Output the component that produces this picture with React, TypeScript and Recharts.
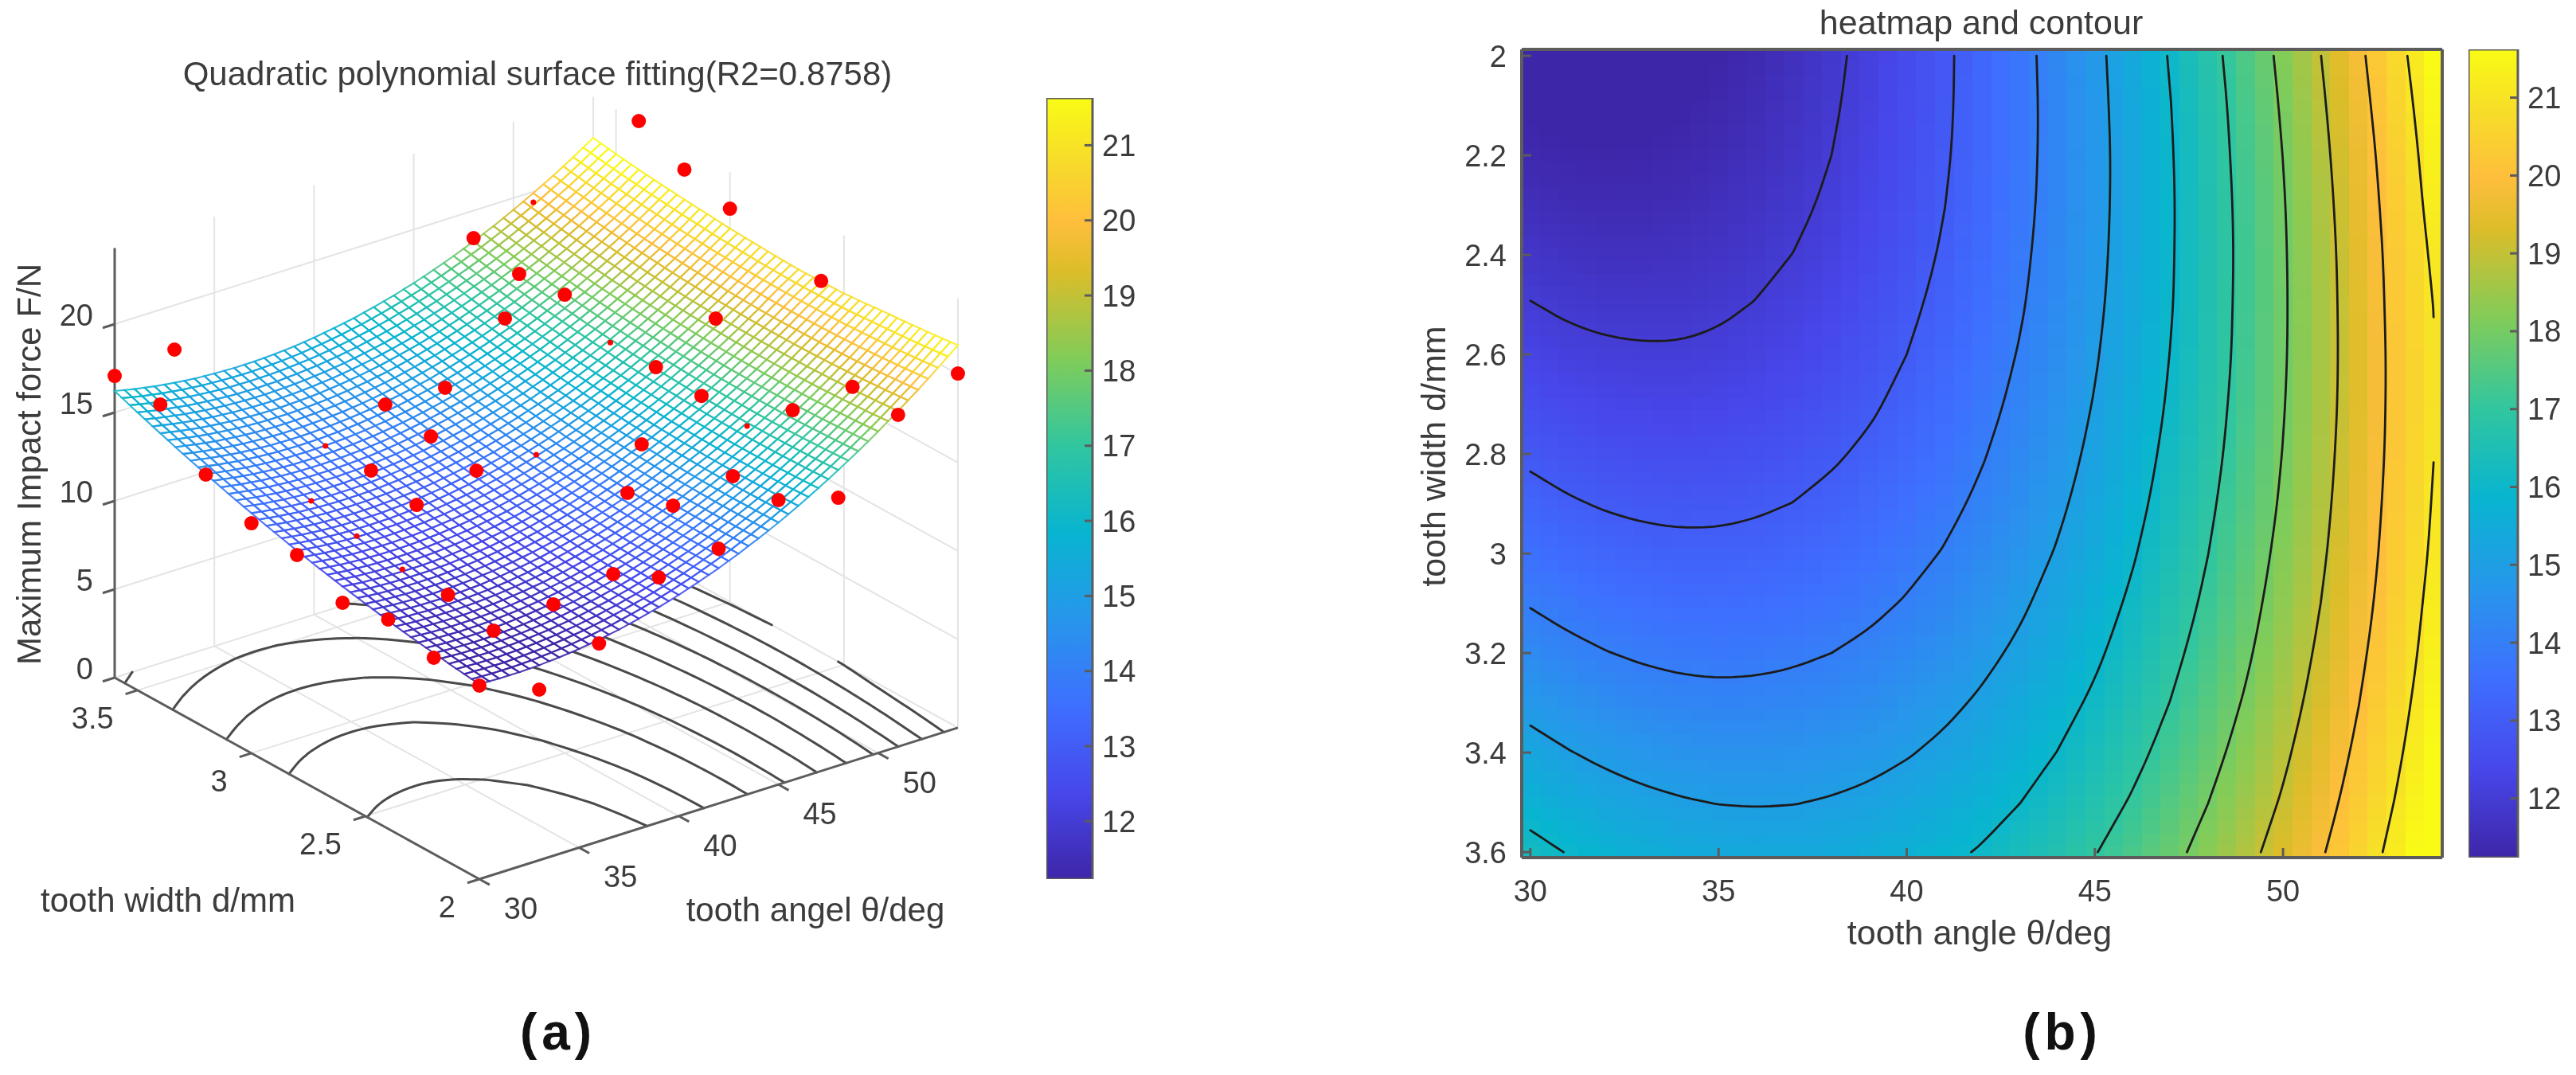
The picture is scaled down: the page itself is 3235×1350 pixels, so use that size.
import { ComposedChart, Line, Scatter, XAxis, YAxis, ReferenceArea } from 'recharts';

// Fitted surface, one row per tooth width, one column per tooth angle
const ANGLES = [30, 31, 32, 33, 34, 35, 36, 37, 38, 39, 40, 41, 42, 43, 44, 45, 46, 47, 48, 49, 50, 51, 52, 53, 54];
const WIDTHS = [2, 2.1, 2.2, 2.3, 2.4, 2.5, 2.6, 2.7, 2.8, 2.9, 3, 3.1, 3.2, 3.3, 3.4, 3.5, 3.6];
const FORCE = [
  [11.03, 10.99, 10.99, 11.03, 11.12, 11.24, 11.41, 11.62, 11.88, 12.17, 12.51, 12.89, 13.31, 13.77, 14.28, 14.82, 15.41, 16.05, 16.72, 17.43, 18.19, 18.99, 19.83, 20.72, 21.64],
  [11.18, 11.13, 11.11, 11.15, 11.22, 11.33, 11.49, 11.69, 11.93, 12.21, 12.53, 12.9, 13.31, 13.76, 14.25, 14.79, 15.36, 15.98, 16.64, 17.34, 18.09, 18.88, 19.71, 20.58, 21.49],
  [11.36, 11.29, 11.26, 11.28, 11.34, 11.44, 11.59, 11.77, 12, 12.27, 12.58, 12.93, 13.33, 13.77, 14.25, 14.77, 15.33, 15.94, 16.59, 17.28, 18.01, 18.79, 19.6, 20.46, 21.36],
  [11.55, 11.47, 11.44, 11.44, 11.49, 11.58, 11.71, 11.88, 12.09, 12.35, 12.65, 12.99, 13.37, 13.8, 14.27, 14.78, 15.33, 15.92, 16.56, 17.23, 17.95, 18.72, 19.52, 20.37, 21.25],
  [11.77, 11.68, 11.63, 11.62, 11.66, 11.73, 11.85, 12.01, 12.21, 12.46, 12.74, 13.07, 13.44, 13.86, 14.31, 14.81, 15.35, 15.93, 16.55, 17.21, 17.92, 18.67, 19.46, 20.29, 21.12],
  [12.02, 11.91, 11.85, 11.83, 11.85, 11.91, 12.02, 12.17, 12.36, 12.59, 12.86, 13.18, 13.53, 13.93, 14.38, 14.86, 15.39, 15.95, 16.57, 17.22, 17.91, 18.65, 19.43, 20.25, 21.01],
  [12.28, 12.16, 12.09, 12.06, 12.06, 12.11, 12.21, 12.34, 12.52, 12.74, 13, 13.3, 13.65, 14.04, 14.47, 14.94, 15.45, 16.01, 16.6, 17.24, 17.92, 18.65, 19.41, 20.22, 20.97],
  [12.57, 12.44, 12.35, 12.31, 12.3, 12.34, 12.42, 12.54, 12.71, 12.91, 13.16, 13.45, 13.79, 14.16, 14.58, 15.04, 15.54, 16.08, 16.67, 17.29, 17.96, 18.67, 19.42, 20.22, 20.95],
  [12.88, 12.74, 12.64, 12.58, 12.57, 12.59, 12.66, 12.77, 12.92, 13.11, 13.35, 13.63, 13.95, 14.31, 14.71, 15.16, 15.65, 16.18, 16.75, 17.36, 18.02, 18.72, 19.46, 20.24, 20.99],
  [13.22, 13.06, 12.95, 12.88, 12.85, 12.86, 12.92, 13.01, 13.15, 13.34, 13.56, 13.82, 14.13, 14.48, 14.87, 15.3, 15.78, 16.3, 16.86, 17.46, 18.1, 18.79, 19.52, 20.29, 21.05],
  [13.58, 13.41, 13.28, 13.2, 13.16, 13.16, 13.2, 13.29, 13.41, 13.58, 13.79, 14.04, 14.34, 14.67, 15.05, 15.47, 15.94, 16.44, 16.99, 17.58, 18.21, 18.88, 19.6, 20.35, 21.12],
  [13.96, 13.78, 13.64, 13.54, 13.49, 13.48, 13.51, 13.58, 13.69, 13.85, 14.05, 14.29, 14.57, 14.89, 15.26, 15.67, 16.12, 16.61, 17.14, 17.72, 18.34, 19, 19.7, 20.44, 21.23],
  [14.37, 14.17, 14.02, 13.91, 13.84, 13.82, 13.84, 13.9, 14, 14.14, 14.32, 14.55, 14.82, 15.13, 15.49, 15.88, 16.32, 16.8, 17.32, 17.88, 18.49, 19.14, 19.83, 20.56, 21.33],
  [14.79, 14.59, 14.42, 14.3, 14.22, 14.18, 14.19, 14.24, 14.32, 14.45, 14.63, 14.84, 15.1, 15.4, 15.74, 16.12, 16.55, 17.01, 17.52, 18.07, 18.66, 19.3, 19.98, 20.7, 21.46],
  [15.25, 15.03, 14.85, 14.72, 14.62, 14.57, 14.56, 14.6, 14.67, 14.79, 14.95, 15.15, 15.4, 15.68, 16.01, 16.38, 16.79, 17.25, 17.74, 18.28, 18.86, 19.49, 20.15, 20.86, 21.6],
  [15.72, 15.49, 15.3, 15.15, 15.05, 14.98, 14.96, 14.98, 15.05, 15.15, 15.3, 15.49, 15.72, 15.99, 16.31, 16.66, 17.07, 17.51, 17.99, 18.52, 19.08, 19.69, 20.34, 21.04, 21.77],
  [16.22, 15.97, 15.77, 15.61, 15.49, 15.42, 15.38, 15.39, 15.44, 15.53, 15.67, 15.85, 16.06, 16.33, 16.63, 16.97, 17.36, 17.79, 18.26, 18.77, 19.33, 19.92, 20.56, 21.24, 21.97],
];

// Measured samples that sit above the surface
const dotTheta = [54, 54, 54, 54, 48, 48, 48, 45, 51, 48, 48, 48, 51, 51, 54, 45, 45, 48, 45, 42, 42, 42, 39, 39, 36, 36, 33, 30, 30, 33, 30, 30, 33, 30, 36, 30, 30, 36, 39, 39, 30, 39, 42, 33, 30];
const dotWidth = [3.4, 3.2, 3, 2.6, 3.6, 3.4, 3.2, 3.2, 2.8, 2.8, 2.6, 2.2, 2.2, 2, 2, 2.6, 2.2, 2, 2, 2.4, 2.2, 2, 2.2, 2, 2.2, 2, 2, 2, 2.2, 2.2, 2.4, 2.6, 2.4, 2.8, 2.8, 3, 3.2, 3, 2.8, 3, 3.4, 3.2, 3.2, 3.6, 3.6];
const dotForce = [24.35, 23.03, 22.24, 21, 18.44, 17.84, 18.09, 17.82, 18.52, 16.84, 16.64, 18.68, 18.93, 18.77, 20.04, 14.97, 16.02, 15.15, 16.09, 14.72, 15.42, 14.41, 12.62, 13.86, 11.98, 11.19, 9.65, 10.95, 11.1, 11.56, 11.84, 11.36, 12.16, 12.64, 13.33, 13.01, 14.34, 13.85, 14.2, 14.71, 16.88, 15.09, 14.97, 17.49, 17.07];
// Samples poking just through the mesh
const sliverTheta = [48, 48, 33, 33, 33, 36, 51, 42];
const sliverWidth = [3, 2.4, 2.6, 2.8, 3, 3.2, 3.6, 2.8];
const sliverForce = [16.81, 16.36, 12.18, 12.64, 13.2, 13.82, 19.4, 14.03];

const LEVELS = [12, 13, 14, 15, 16, 17, 18, 19, 20, 21];
const THETA_TICKS = [30, 35, 40, 45, 50];
const WIDTH_TICKS_A = [2, 2.5, 3, 3.5];
const WIDTH_TICKS_B = [2, 2.2, 2.4, 2.6, 2.8, 3, 3.2, 3.4, 3.6];
const FORCE_TICKS = [0, 5, 10, 15, 20];
const BAR_TICKS = [12, 13, 14, 15, 16, 17, 18, 19, 20, 21];

const PARULA = [[62, 38, 168], [71, 71, 235], [62, 111, 255], [39, 150, 235], [8, 181, 208], [49, 198, 159], [129, 204, 89], [220, 189, 41], [254, 190, 60], [247, 220, 42], [249, 251, 21]];
const PARULA_POS = [0, 7, 14, 21, 28, 35, 42, 49, 53, 58, 63].map((v) => v / 63);
const C_MIN = 11.24;
const C_MAX = 21.63;

const FONT = '"Liberation Sans", Arial, sans-serif';
const TEXT = '#3c3c3c';
const AXIS = '#5c5c5c';

function parula(z: number) {
  const t = Math.min(1, Math.max(0, (z - C_MIN) / (C_MAX - C_MIN)));
  let k = 0;
  while (k < PARULA.length - 2 && t > PARULA_POS[k + 1]) k++;
  const f = (t - PARULA_POS[k]) / (PARULA_POS[k + 1] - PARULA_POS[k]);
  const c = PARULA[k].map((v, n) => Math.round(v + (PARULA[k + 1][n] - v) * f));
  return `rgb(${c[0]},${c[1]},${c[2]})`;
}

type Pt = { theta: number; d: number };

// rounds off the corners the coarse table leaves in a contour
function soften(line: Pt[]) {
  const out: Pt[] = [line[0]];
  for (let k = 0; k < line.length - 1; k++) {
    const a = line[k];
    const b = line[k + 1];
    out.push({ theta: a.theta * 0.75 + b.theta * 0.25, d: a.d * 0.75 + b.d * 0.25 });
    out.push({ theta: a.theta * 0.25 + b.theta * 0.75, d: a.d * 0.25 + b.d * 0.75 });
  }
  out.push(line[line.length - 1]);
  return out;
}

// marching squares over the table, chained into lines with gaps between them
function contour(level: number) {
  const cross = (i1: number, j1: number, i2: number, j2: number) => {
    const a = FORCE[j1][i1] - level;
    const b = FORCE[j2][i2] - level;
    if (a >= 0 === b >= 0) return null;
    const f = a / (a - b);
    return { theta: ANGLES[i1] + (ANGLES[i2] - ANGLES[i1]) * f, d: WIDTHS[j1] + (WIDTHS[j2] - WIDTHS[j1]) * f };
  };
  const segs: Pt[][] = [];
  for (let j = 0; j < WIDTHS.length - 1; j++) {
    for (let i = 0; i < ANGLES.length - 1; i++) {
      const hits = [cross(i, j, i + 1, j), cross(i + 1, j, i + 1, j + 1), cross(i, j + 1, i + 1, j + 1), cross(i, j, i, j + 1)].filter(Boolean) as Pt[];
      if (hits.length === 2) segs.push(hits);
    }
  }
  const key = (p: Pt) => `${p.theta.toFixed(5)}_${p.d.toFixed(5)}`;
  const links = new Map<string, number[]>();
  segs.forEach((s, n) => s.forEach((p) => links.set(key(p), [...(links.get(key(p)) || []), n])));
  const used = new Set<number>();
  const out: { theta: number; d: number | null }[] = [];
  const walk = (start: number, head: number) => {
    used.add(start);
    let cur = segs[start][head];
    const line = [segs[start][1 - head], cur];
    for (;;) {
      const next = (links.get(key(cur)) || []).find((n) => !used.has(n));
      if (next === undefined) break;
      used.add(next);
      cur = key(segs[next][0]) === key(cur) ? segs[next][1] : segs[next][0];
      line.push(cur);
    }
    const smooth = soften(soften(line));
    out.push(...smooth, { theta: cur.theta, d: null });
  };
  segs.forEach((s, n) => {
    if (used.has(n)) return;
    if ((links.get(key(s[0])) || []).length === 1) walk(n, 1);
    else if ((links.get(key(s[1])) || []).length === 1) walk(n, 0);
  });
  return out;
}
const contourData = LEVELS.flatMap(contour);

// panel (a): orthographic view of the axes, chart units are page pixels
const project = (theta: number, d: number, z: number) => ({
  x: 602 + 25.04 * (theta - 30) - 286.25 * (d - 2),
  y: 1104 - 7.92 * (theta - 30) - 158.1 * (d - 2) - 22.2 * z,
});
const Z_TOP = 24.3;
const gap = { x: 0, y: null };
const wallSegs: any[] = [];
const addSeg = (list: any[], a: any, b: any) => list.push(a, b, gap);
[...FORCE_TICKS].forEach((z) => {
  addSeg(wallSegs, project(30, 3.6, z), project(54, 3.6, z));
  addSeg(wallSegs, project(54, 3.6, z), project(54, 2, z));
});
THETA_TICKS.slice(1).forEach((t) => {
  addSeg(wallSegs, project(t, 3.6, 0), project(t, 3.6, Z_TOP));
  addSeg(wallSegs, project(t, 2, 0), project(t, 3.6, 0));
});
WIDTH_TICKS_A.slice(1).forEach((d) => {
  addSeg(wallSegs, project(54, d, 0), project(54, d, Z_TOP));
  addSeg(wallSegs, project(30, d, 0), project(54, d, 0));
});
addSeg(wallSegs, project(54, 2, 0), project(54, 2, Z_TOP));
addSeg(wallSegs, project(54, 3.6, 0), project(54, 3.6, Z_TOP));

const axisSegs: any[] = [];
addSeg(axisSegs, project(30, 3.6, 0), project(30, 3.6, Z_TOP));
addSeg(axisSegs, project(30, 3.6, 0), project(30, 2, 0));
addSeg(axisSegs, project(30, 2, 0), project(54, 2, 0));
FORCE_TICKS.forEach((z) => addSeg(axisSegs, project(30, 3.6, z), project(29.4, 3.6, z)));
WIDTH_TICKS_A.forEach((d) => addSeg(axisSegs, project(30, d, 0), project(29.4, d, 0)));
THETA_TICKS.forEach((t) => addSeg(axisSegs, project(t, 2, 0), project(t, 1.955, 0)));

const floorData = contourData.map((p) => (p.d === null ? gap : project(p.theta, p.d, 0)));

const surfaceCells: any[] = [];
for (let j = 0; j < WIDTHS.length - 1; j++) {
  for (let i = 0; i < ANGLES.length - 1; i++) {
    const pts = [project(ANGLES[i], WIDTHS[j], FORCE[j][i]), project(ANGLES[i + 1], WIDTHS[j], FORCE[j][i + 1]), project(ANGLES[i + 1], WIDTHS[j + 1], FORCE[j + 1][i + 1]), project(ANGLES[i], WIDTHS[j + 1], FORCE[j + 1][i])];
    surfaceCells.push({ x: pts[0].x, y: pts[0].y, pts, z: [FORCE[j][i], FORCE[j][i + 1], FORCE[j + 1][i + 1], FORCE[j + 1][i]] });
  }
}
const toView = (t: number[], w: number[], f: number[]) => t.map((v, n) => project(v, w[n], f[n]));
const dots = toView(dotTheta, dotWidth, dotForce);
const slivers = toView(sliverTheta, sliverWidth, sliverForce);
const forceLabels = FORCE_TICKS.map((z) => ({ ...project(30, 3.6, z), label: String(z) }));
const widthLabels = WIDTH_TICKS_A.map((d) => ({ ...project(30, d, 0), label: String(d) }));
const thetaLabels = THETA_TICKS.map((t) => ({ ...project(t, 2, 0), label: String(t) }));

const CellBack = ({ payload }: any) => (
  <polygon points={payload.pts.map((p: any) => `${p.x},${p.y}`).join(' ')} fill="#fff" stroke="#fff" strokeWidth={1} />
);

// one table cell is drawn as a 2 x 3 wire lattice, like the finer mesh of the original
const CellWire = ({ payload }: any) => {
  const { pts, z } = payload;
  const mix = (vals: number[], s: number, t: number) => vals[0] * (1 - s) * (1 - t) + vals[1] * s * (1 - t) + vals[2] * s * t + vals[3] * (1 - s) * t;
  const xs = pts.map((p: any) => p.x);
  const ys = pts.map((p: any) => p.y);
  const parts = [];
  for (let a = 0; a < 2; a++) {
    for (let b = 0; b < 3; b++) {
      const corner = (s: number, t: number) => `${mix(xs, s / 2, t / 3).toFixed(1)},${mix(ys, s / 2, t / 3).toFixed(1)}`;
      parts.push(
        <path
          key={`${a}-${b}`}
          d={`M${corner(a, b)}L${corner(a + 1, b)}L${corner(a + 1, b + 1)}L${corner(a, b + 1)}Z`}
          fill="none"
          stroke={parula(mix(z, (a + 0.5) / 2, (b + 0.5) / 3))}
          strokeWidth={2.1}
          strokeOpacity={0.9}
        />
      );
    }
  }
  return <g>{parts}</g>;
};

const RedDot = (r: number) => ({ cx, cy }: any) => <circle cx={cx} cy={cy} r={r} fill="#ff0000" />;

const tickLabel = (dx: number, dy: number, anchor: string) => ({ cx, cy, payload }: any) => (
  <text x={cx + dx} y={cy + dy} textAnchor={anchor} dominantBaseline="central" fontSize={38} fontFamily={FONT} fill={TEXT}>
    {payload.label}
  </text>
);

function SurfacePanel() {
  const lineProps = { dot: false, activeDot: false, isAnimationActive: false, connectNulls: false, dataKey: 'y' };
  return (
    <div style={{ position: 'absolute', left: 0, top: 0 }}>
      <ComposedChart width={1300} height={1300} margin={{ top: 0, right: 0, bottom: 0, left: 0 }}>
        <XAxis hide type="number" dataKey="x" domain={[0, 1300]} />
        <YAxis hide type="number" dataKey="y" domain={[0, 1300]} reversed />
        <Line {...lineProps} data={wallSegs} stroke="#e4e4e4" strokeWidth={2} />
        <Line {...lineProps} data={floorData} stroke="#4a4a4a" strokeWidth={3} strokeLinecap="round" />
        <Line {...lineProps} data={axisSegs} stroke={AXIS} strokeWidth={3} />
        <Scatter data={surfaceCells} shape={CellBack} isAnimationActive={false} />
        <Scatter data={surfaceCells} shape={CellWire} isAnimationActive={false} />
        <Scatter data={dots} shape={RedDot(9)} isAnimationActive={false} />
        <Scatter data={slivers} shape={RedDot(3.5)} isAnimationActive={false} />
        <Scatter data={forceLabels} shape={tickLabel(-27, -11, 'end')} isAnimationActive={false} />
        <Scatter data={widthLabels} shape={tickLabel(-30, 35, 'end')} isAnimationActive={false} />
        <Scatter data={thetaLabels} shape={tickLabel(52, 37, 'middle')} isAnimationActive={false} />
      </ComposedChart>
    </div>
  );
}

// panel (b)
const X_DOMAIN = [29.77, 54.23];
const Y_DOMAIN = [1.987, 3.611];
const PLOT_W = 1156;
const PLOT_H = 1015;
const PX_DEG = PLOT_W / (X_DOMAIN[1] - X_DOMAIN[0]);
const PX_MM = PLOT_H / (Y_DOMAIN[1] - Y_DOMAIN[0]);

const heatCells = WIDTHS.flatMap((d, j) => ANGLES.map((theta, i) => ({ theta, d, i, j })));

const HeatCell = ({ cx, cy, payload }: any) => {
  const { theta, d, i, j } = payload;
  const parts = [];
  for (let a = 0; a < 2; a++) {
    if (a === 1 && i === ANGLES.length - 1) continue;
    for (let b = 0; b < 4; b++) {
      if (b > 0 && j === WIDTHS.length - 1) continue;
      const i2 = Math.min(i + 1, ANGLES.length - 1);
      const j2 = Math.min(j + 1, WIDTHS.length - 1);
      const s = a / 2;
      const t = b / 4;
      const z = FORCE[j][i] * (1 - s) * (1 - t) + FORCE[j][i2] * s * (1 - t) + FORCE[j2][i2] * s * t + FORCE[j2][i] * (1 - s) * t;
      const x0 = Math.max(theta + a * 0.5 - 0.25, X_DOMAIN[0]);
      const x1 = Math.min(theta + a * 0.5 + 0.25, X_DOMAIN[1]);
      const y0 = Math.max(d + b * 0.025 - 0.0125, Y_DOMAIN[0]);
      const y1 = Math.min(d + b * 0.025 + 0.0125, Y_DOMAIN[1]);
      parts.push(
        <rect
          key={`${a}-${b}`}
          x={cx + (x0 - theta) * PX_DEG}
          y={cy + (y0 - d) * PX_MM}
          width={(x1 - x0) * PX_DEG + 0.5}
          height={(y1 - y0) * PX_MM + 0.5}
          fill={parula(z)}
          shapeRendering="crispEdges"
        />
      );
    }
  }
  return <g>{parts}</g>;
};

function HeatPanel() {
  const tick = { fontSize: 38, fontFamily: FONT, fill: TEXT };
  const tickLine = { stroke: AXIS, strokeWidth: 3 };
  const axisLine = { stroke: AXIS, strokeWidth: 4 };
  return (
    <div style={{ position: 'absolute', left: 1760, top: 0 }}>
      <ComposedChart width={1400} height={1200} margin={{ top: 0, right: 0, bottom: 0, left: 0 }}>
        <XAxis type="number" dataKey="theta" domain={X_DOMAIN} ticks={THETA_TICKS} interval={0} height={123} tick={tick} tickSize={-12} tickMargin={40} tickLine={tickLine} axisLine={axisLine} />
        <XAxis xAxisId="top" orientation="top" type="number" domain={X_DOMAIN} ticks={THETA_TICKS} interval={0} height={62} tick={false} tickSize={-12} tickLine={tickLine} axisLine={axisLine} />
        <YAxis type="number" dataKey="d" domain={Y_DOMAIN} reversed ticks={WIDTH_TICKS_B} interval={0} width={151} tick={tick} tickSize={-12} tickMargin={31} tickLine={tickLine} axisLine={axisLine} />
        <YAxis yAxisId="right" orientation="right" type="number" domain={Y_DOMAIN} reversed ticks={WIDTH_TICKS_B} interval={0} width={93} tick={false} tickSize={-12} tickLine={tickLine} axisLine={axisLine} />
        <Scatter data={heatCells} shape={HeatCell} isAnimationActive={false} zIndex={50} />
        <Line data={contourData} dataKey="d" dot={false} activeDot={false} isAnimationActive={false} connectNulls={false} stroke="#1c1c1c" strokeWidth={2.8} strokeLinecap="round" zIndex={700} />
      </ComposedChart>
    </div>
  );
}

function ColorBar({ left, top, height, barWidth, lo, hi }: any) {
  const anchor = [{ x: 0, y: lo }];
  return (
    <div style={{ position: 'absolute', left, top }}>
      <ComposedChart width={barWidth + 73} height={height} margin={{ top: 0, right: 0, bottom: 0, left: 0 }}>
        <XAxis hide type="number" dataKey="x" domain={[0, 1]} />
        <YAxis orientation="right" type="number" dataKey="y" domain={[lo, hi]} ticks={BAR_TICKS} interval={0} width={73} tick={{ fontSize: 38, fontFamily: FONT, fill: TEXT }} tickSize={-10} tickMargin={22} tickLine={{ stroke: AXIS, strokeWidth: 3 }} axisLine={false} />
        <Scatter data={anchor} shape={() => null} isAnimationActive={false} />
        <ReferenceArea x1={0} x2={1} y1={lo} y2={hi} fill="url(#parulaBar)" fillOpacity={1} stroke={AXIS} strokeWidth={3} />
      </ComposedChart>
    </div>
  );
}

export default function App() {
  const label = { fontFamily: FONT, fill: TEXT, textAnchor: 'middle' as const };
  return (
    <div style={{ position: 'absolute', left: 0, top: 0, width: 3235, height: 1350, background: '#fff', overflow: 'hidden', filter: 'blur(0.7px)' }}>
      <SurfacePanel />
      <HeatPanel />
      <ColorBar left={1314} top={123} height={981} barWidth={58} lo={11.23} hi={21.63} />
      <ColorBar left={3100} top={62} height={1015} barWidth={62} lo={11.24} hi={21.62} />
      <svg width={3235} height={1350} style={{ position: 'absolute', left: 0, top: 0, pointerEvents: 'none' }}>
        <defs>
          <linearGradient id="parulaBar" x1="0" y1="1" x2="0" y2="0">
            {PARULA.map((c, k) => (
              <stop key={k} offset={PARULA_POS[k]} stopColor={`rgb(${c[0]},${c[1]},${c[2]})`} />
            ))}
          </linearGradient>
        </defs>
        <text {...label} x={675} y={107} fontSize={42}>Quadratic polynomial surface fitting(R2=0.8758)</text>
        <text {...label} x={51} y={583} fontSize={42} transform="rotate(-90 51 583)">Maximum Impact force F/N</text>
        <text {...label} x={211} y={1145} fontSize={42}>tooth width d/mm</text>
        <text {...label} x={1024} y={1157} fontSize={42}>tooth angel θ/deg</text>
        <text {...label} x={2488} y={43} fontSize={43}>heatmap and contour</text>
        <text {...label} x={2486} y={1186} fontSize={43}>tooth angle θ/deg</text>
        <text {...label} x={1815} y={573} fontSize={43} transform="rotate(-90 1815 573)">tooth width d/mm</text>
        <text x={701} y={1318} textAnchor="middle" fontSize={64} fontWeight={700} letterSpacing={6} fontFamily={FONT} fill="#111">(a)</text>
        <text x={2590} y={1318} textAnchor="middle" fontSize={64} fontWeight={700} letterSpacing={6} fontFamily={FONT} fill="#111">(b)</text>
      </svg>
    </div>
  );
}
